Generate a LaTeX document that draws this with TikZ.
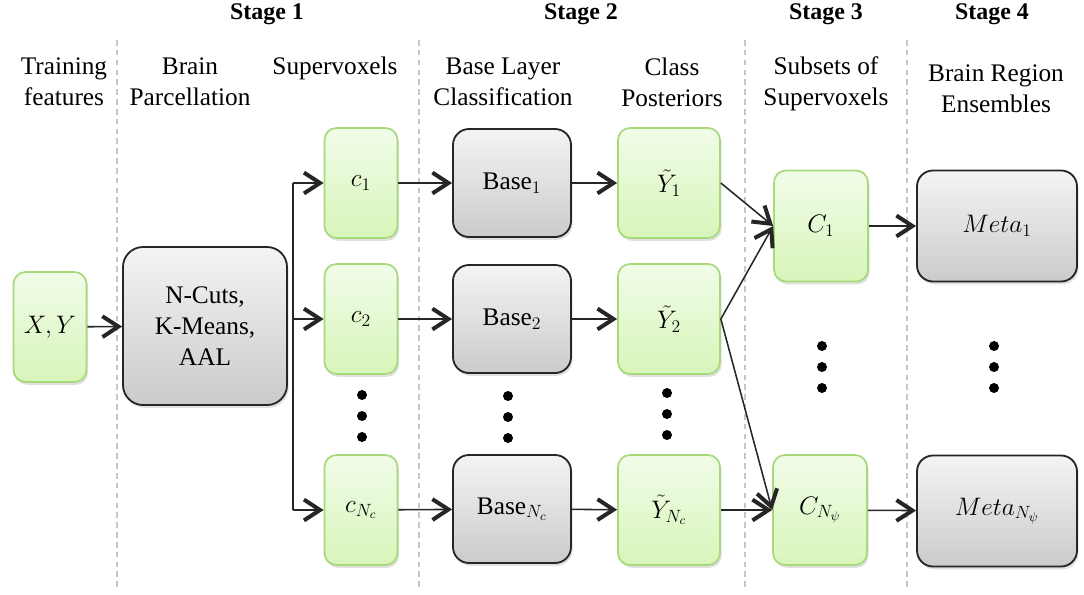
\RequirePackage{fix-cm}
\documentclass[tikz,border=0pt]{standalone}
\usepackage{amsmath,amssymb}
\usepackage{fontspec}
\setmainfont{Liberation Serif}
\usetikzlibrary{arrows.meta,calc,shadows}
\definecolor{greenedge}{HTML}{A6D97A}
\definecolor{greentop}{HTML}{F1FCE8}
\definecolor{greenbot}{HTML}{D8F5BA}
\definecolor{graytop}{HTML}{F4F4F4}
\definecolor{graybot}{HTML}{CBCBCB}
\definecolor{sepgray}{HTML}{C6C6C6}

\tikzset{
	txt/.style={font=\fontsize{18}{22}\selectfont},
	stagehd/.style={font=\fontsize{17}{20}\selectfont\bfseries},
	colhd/.style={txt, align=center, inner sep=0pt},
	gbox/.style={txt, draw=greenedge, line width=1.2pt, rounded corners=3mm,
		top color=greentop, bottom color=greenbot,
		drop shadow={shadow xshift=0.4mm, shadow yshift=-0.7mm, opacity=0.3, fill=black!40},
		minimum width=18.25mm, minimum height=27.5mm, inner sep=0pt},
	kbox/.style={txt, draw=black!85, line width=1.3pt, rounded corners=4mm,
		top color=graytop, bottom color=graybot,
		drop shadow={shadow xshift=0.4mm, shadow yshift=-0.7mm, opacity=0.3, fill=black!40},
		minimum width=29.5mm, minimum height=27mm, inner sep=0pt},
	arr/.style={black!85, line width=1.1pt,
		-{Straight Barb[length=4mm, width=5.2mm, line width=1mm 0]}},
	sep/.style={sepgray, line width=1pt, dash pattern=on 4pt off 3pt},
}

\begin{document}
\begin{tikzpicture}[x=0.25mm, y=-0.25mm]
	\useasboundingbox (0,0) rectangle (1084,594);
%
	\foreach \sx in {117,419,745,907}
		\draw[sep] (\sx,40) -- (\sx,590);
%
	\node[stagehd] (s1) at (267,14) {Stage 1};
	\node[stagehd] (s2) at (581,14) {Stage 2};
	\node[stagehd] (s3) at (826,14) {Stage 3};
	\node[stagehd] (s4) at (992,14) {Stage 4};
%
	\node[colhd] (h1) at (64,82) {Training\\features};
	\node[colhd] (h2) at (190,82) {Brain\\Parcellation};
	\node[colhd] (h3) at (335,68) {Supervoxels};
	\node[colhd] (h4) at (503,82) {Base Layer\\Classification};
	\node[colhd] (h5) at (672,82) {Class\\Posteriors};
	\node[colhd] (h6) at (826,84) {Subsets of\\Supervoxels};
	\node[colhd] (h7) at (996,89) {Brain Region\\Ensembles};
%
	\node[gbox] (xy) at (50,327) {$X,Y$};
	\node[kbox, minimum width=41mm, minimum height=39.5mm, rounded corners=5mm, align=center] (parc) at (205,326) {N-Cuts,\\K-Means,\\AAL};
%
	\node[gbox] (c1) at (361,183) {$c_1$};
	\node[gbox] (c2) at (361,319) {$c_2$};
	\node[gbox] (cn) at (361,510) {$c_{N_c}$};
	\node[kbox] (b1) at (512,183) {Base$_1$};
	\node[kbox] (b2) at (512,319) {Base$_2$};
	\node[kbox] (bn) at (512,509) {Base$_{N_c}$};
	\node[gbox, minimum width=25.5mm] (y1) at (669,183) {$\tilde{Y}_1$};
	\node[gbox, minimum width=25.5mm] (y2) at (669,319) {$\tilde{Y}_2$};
	\node[gbox, minimum width=25.5mm] (yn) at (669,510) {$\tilde{Y}_{N_c}$};
	\node[gbox, minimum width=23.5mm, minimum height=27.75mm] (C1) at (821,226) {$C_1$};
	\node[gbox, minimum width=23.5mm] (Cn) at (820,510) {$C_{N_\psi}$};
	\node[kbox, minimum width=40mm, minimum height=27.75mm] (m1) at (997,226) {$Meta_1$};
	\node[kbox, minimum width=40mm, minimum height=27.75mm] (mn) at (997,511) {$Meta_{N_\psi}$};
%
	\coordinate (split) at (293,326);
	\draw[black!85, line width=1.1pt] (split |- c1) -- (split |- cn);
	\draw[arr] (xy) -- (parc);
	\draw[arr] (split |- c1) -- (c1);
	\draw[arr] (split |- c2) -- (c2);
	\draw[arr] (split |- cn) -- (cn);
	\path[arr] (c1) edge (b1) (b1) edge (y1)
		(c2) edge (b2) (b2) edge (y2)
		(cn) edge (bn) (bn) edge (yn)
		(y1.east) edge (C1.west)
		(y2.east) edge (C1.west)
		(y2.east) edge (Cn.west)
		(yn.east) edge (Cn.west)
		(C1) edge (m1)
		(Cn) edge (mn);
%
	\foreach \dx/\dy in {362/395, 508/396, 667/393, 822/346, 994/346}
		\foreach \k in {0,1,2}
			\fill (\dx,\dy+21*\k) circle (1.25mm);
\end{tikzpicture}
\end{document}
